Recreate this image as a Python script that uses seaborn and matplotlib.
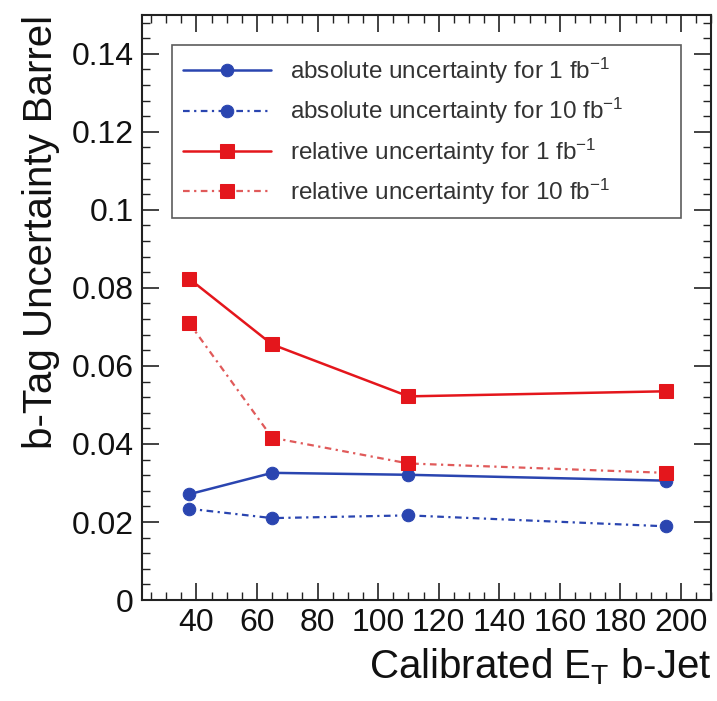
import matplotlib
matplotlib.use("Agg")
import matplotlib.pyplot as plt
import seaborn as sns
import pandas as pd
from matplotlib.ticker import MultipleLocator, FixedLocator

# ---- data ----
et_values = [37.5, 65, 110, 195]
abs_1fb = [0.0271, 0.0326, 0.0321, 0.0306]
abs_10fb = [0.0234, 0.0210, 0.0217, 0.0189]
rel_1fb = [0.0824, 0.0655, 0.0522, 0.0535]
rel_10fb = [0.0711, 0.0416, 0.0350, 0.0326]
series_labels = [
    "absolute uncertainty for 1 fb$^{-1}$",
    "absolute uncertainty for 10 fb$^{-1}$",
    "relative uncertainty for 1 fb$^{-1}$",
    "relative uncertainty for 10 fb$^{-1}$",
]
y_ticks = [0, 0.02, 0.04, 0.06, 0.08, 0.1, 0.12, 0.14]
y_tick_labels = ["0", "0.02", "0.04", "0.06", "0.08", "0.1", "0.12", "0.14"]
x_ticks = [40, 60, 80, 100, 120, 140, 160, 180, 200]
x_tick_labels = ["40", "60", "80", "100", "120", "140", "160", "180", "200"]

sns.set_theme(style="ticks")
plt.rcParams["font.family"] = ["Liberation Sans", "DejaVu Sans"]
plt.rcParams["mathtext.default"] = "regular"

fig = plt.figure(figsize=(7.17, 7.01), dpi=100)
ax = fig.add_axes([0.198, 0.144, 0.794, 0.835])

blue = "#2a45b0"
red = "#e4161c"
red_light = "#e05a5a"

styles = [
    dict(color=blue, marker="o", markersize=9, linestyle="-", linewidth=1.8, mfc=blue, mec=blue),
    dict(color=blue, marker="o", markersize=9, linestyle=(0, (3, 2, 1, 2)), linewidth=1.6, mfc=blue, mec=blue),
    dict(color=red, marker="s", markersize=9.5, linestyle="-", linewidth=1.8, mfc=red, mec=red),
    dict(color=red_light, marker="s", markersize=9.5, linestyle=(0, (3, 2, 1, 2)), linewidth=1.6, mfc=red, mec=red),
]
all_series = [abs_1fb, abs_10fb, rel_1fb, rel_10fb]
for vals, lab, st in zip(all_series, series_labels, styles):
    df = pd.DataFrame({"et": et_values, "unc": vals})
    sns.lineplot(data=df, x="et", y="unc", ax=ax, label=lab, **st)

ax.set_xlim(22, 210)
ax.set_ylim(0, 0.15)
ax.xaxis.set_major_locator(FixedLocator(x_ticks))
ax.set_xticklabels(x_tick_labels)
ax.xaxis.set_minor_locator(MultipleLocator(5))
ax.yaxis.set_major_locator(FixedLocator(y_ticks))
ax.set_yticklabels(y_tick_labels)
ax.yaxis.set_minor_locator(MultipleLocator(0.004))

ax.tick_params(which="both", direction="in", top=True, right=True, colors="#222222",
               labelcolor="#111111", labelsize=23)
ax.tick_params(which="major", length=12, width=1.2, pad=6)
ax.tick_params(which="minor", length=6, width=1.0)
for sp in ax.spines.values():
    sp.set_linewidth(1.5)
    sp.set_color("#222222")

ax.set_xlabel("Calibrated E$_T$ b-Jet", fontsize=29, loc="right", labelpad=6, color="#111111")
ax.set_ylabel("b-Tag Uncertainty Barrel", fontsize=29, loc="top", labelpad=8, color="#111111")

leg = ax.legend(loc="upper left", bbox_to_anchor=(0.053, 0.949, 0.893, 0.0), mode="expand",
                fontsize=17.5, handlelength=3.6, frameon=True, fancybox=False,
                borderaxespad=0, labelspacing=0.42, handletextpad=0.8, borderpad=0.45)
leg.get_frame().set_edgecolor("#333333")
leg.get_frame().set_linewidth(1.2)
for t in leg.get_texts():
    t.set_color("#333333")

fig.savefig("out.png", dpi=100)
